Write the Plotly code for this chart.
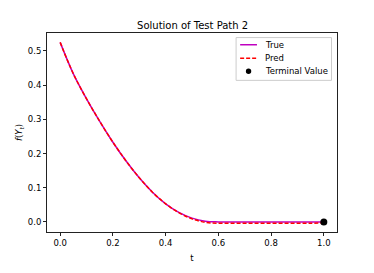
import plotly.graph_objects as go

t_vals = [0.0, 0.05, 0.1, 0.15, 0.2, 0.25, 0.3, 0.35, 0.4, 0.45, 0.5, 0.55, 0.6,
          0.65, 0.7, 0.75, 0.8, 0.85, 0.9, 0.95, 1.0]
true_vals = [0.525, 0.433, 0.360, 0.294, 0.233, 0.178, 0.129, 0.087, 0.053, 0.028,
             0.011, 0.002, 0.0, 0.0, 0.0, 0.0, 0.0, 0.0, 0.0, 0.0, 0.0]
pred_vals = [0.525, 0.433, 0.360, 0.294, 0.233, 0.178, 0.129, 0.087, 0.053, 0.027,
             0.009, -0.001, -0.004, -0.004, -0.004, -0.004, -0.004, -0.004, -0.004, -0.004, -0.003]
terminal_t = [1.0]
terminal_v = [0.0]
legend_names = ["True", "Pred", "Terminal Value"]

TRUE_COLOR = "#bf00bf"
PRED_COLOR = "#ff0000"
FS = 8.5

fig = go.Figure()
fig.add_trace(go.Scatter(x=t_vals, y=true_vals, mode="lines", name=legend_names[0],
                         line=dict(color=TRUE_COLOR, width=1.5, shape="spline")))
fig.add_trace(go.Scatter(x=t_vals, y=pred_vals, mode="lines", name=legend_names[1],
                         line=dict(color=PRED_COLOR, width=1.5, dash="4px,2px", shape="spline")))
fig.add_trace(go.Scatter(x=terminal_t, y=terminal_v, mode="markers", name=legend_names[2],
                         marker=dict(color="black", size=7)))

axis_common = dict(showgrid=False, zeroline=False, showline=True, linecolor="#222222",
                   linewidth=1, mirror=True, ticks="outside", ticklen=3, tickcolor="#222222",
                   tickfont=dict(size=FS, color="black"))

# compact matplotlib-style legend (frame, samples, labels) in paper coordinates
lx0, lx1, ly0, ly1 = 0.652, 0.981, 0.762, 0.977
sx0, sx1, tx = 0.666, 0.724, 0.745
rows = [0.941, 0.873, 0.808]
shapes = [
    dict(type="rect", xref="paper", yref="paper", x0=lx0, x1=lx1, y0=ly0, y1=ly1,
         line=dict(color="#cccccc", width=1), fillcolor="rgba(255,255,255,0.8)", layer="above"),
    dict(type="line", xref="paper", yref="paper", x0=sx0, x1=sx1, y0=rows[0], y1=rows[0],
         line=dict(color=TRUE_COLOR, width=1.5), layer="above"),
    dict(type="line", xref="paper", yref="paper", x0=sx0, x1=sx1, y0=rows[1], y1=rows[1],
         line=dict(color=PRED_COLOR, width=1.5, dash="4px,2px"), layer="above"),
    dict(type="circle", xref="paper", yref="paper", xsizemode="pixel", ysizemode="pixel",
         xanchor=(sx0 + sx1) / 2, yanchor=rows[2], x0=-2.7, x1=2.7, y0=-2.7, y1=2.7,
         line=dict(color="black", width=0), fillcolor="black", layer="above"),
]
annotations = [
    dict(text=name, xref="paper", yref="paper", x=tx, y=ry, xanchor="left", yanchor="middle",
         showarrow=False, font=dict(size=FS, color="black"))
    for name, ry in zip(legend_names, rows)
]

fig.update_layout(
    width=374, height=273,
    margin=dict(l=47, r=37, t=33, b=35),
    paper_bgcolor="white", plot_bgcolor="white",
    font=dict(family="DejaVu Sans", color="black"),
    title=dict(text="Solution of Test Path 2", x=0.515, xanchor="center", y=0.905,
               yanchor="middle", font=dict(size=10)),
    xaxis=dict(range=[-0.05, 1.05], tickvals=[0, 0.2, 0.4, 0.6, 0.8, 1.0],
               ticktext=["0.0", "0.2", "0.4", "0.6", "0.8", "1.0"],
               title=dict(text="t", font=dict(size=FS), standoff=7), **axis_common),
    yaxis=dict(range=[-0.0295, 0.5525], tickvals=[0, 0.1, 0.2, 0.3, 0.4, 0.5],
               ticktext=["0.0", "0.1", "0.2", "0.3", "0.4", "0.5"],
               title=dict(text="<i>f</i>(<i>Y<sub>t</sub></i>)", font=dict(size=FS), standoff=3),
               **axis_common),
    showlegend=False,
    shapes=shapes,
    annotations=annotations,
)

fig.write_html("out.html", config={"displayModeBar": False},
               post_script="document.body.style.margin='0';")
